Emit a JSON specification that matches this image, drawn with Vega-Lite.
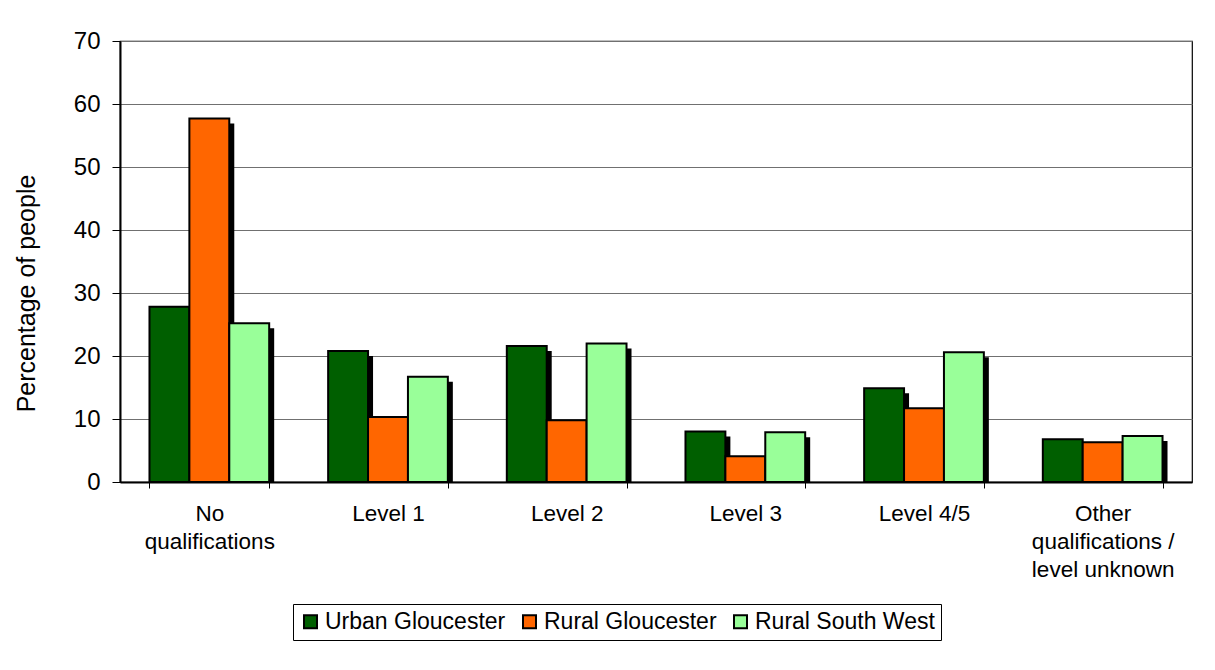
{
  "$schema": "https://vega.github.io/schema/vega-lite/v6.json",
  "autosize": {"type": "none"},
  "width": 1072,
  "height": 441,
  "padding": {"left": 120, "top": 41, "right": 23, "bottom": 188},
  "background": "white",
  "config": {
    "font": "Liberation Sans",
    "view": {"stroke": "#000000", "strokeWidth": 1.2}
  },
  "data": {
    "values": [
      {"qual": "No qualifications", "area": "Urban Gloucester", "value": 27.8},
      {"qual": "No qualifications", "area": "Rural Gloucester", "value": 57.7},
      {"qual": "No qualifications", "area": "Rural South West", "value": 25.2},
      {"qual": "Level 1", "area": "Urban Gloucester", "value": 20.8},
      {"qual": "Level 1", "area": "Rural Gloucester", "value": 10.3},
      {"qual": "Level 1", "area": "Rural South West", "value": 16.7},
      {"qual": "Level 2", "area": "Urban Gloucester", "value": 21.6},
      {"qual": "Level 2", "area": "Rural Gloucester", "value": 9.8},
      {"qual": "Level 2", "area": "Rural South West", "value": 22.0},
      {"qual": "Level 3", "area": "Urban Gloucester", "value": 8.0},
      {"qual": "Level 3", "area": "Rural Gloucester", "value": 4.1},
      {"qual": "Level 3", "area": "Rural South West", "value": 7.9},
      {"qual": "Level 4/5", "area": "Urban Gloucester", "value": 14.9},
      {"qual": "Level 4/5", "area": "Rural Gloucester", "value": 11.7},
      {"qual": "Level 4/5", "area": "Rural South West", "value": 20.6},
      {"qual": "Other qualifications / level unknown", "area": "Urban Gloucester", "value": 6.8},
      {"qual": "Other qualifications / level unknown", "area": "Rural Gloucester", "value": 6.3},
      {"qual": "Other qualifications / level unknown", "area": "Rural South West", "value": 7.3}
    ]
  },
  "encoding": {
    "x": {
      "field": "qual",
      "type": "nominal",
      "sort": null,
      "scale": {"paddingInner": 0.33, "paddingOuter": 0.165},
      "axis": {
        "title": null,
        "labelAngle": 0,
        "labelFontSize": 22.5,
        "labelColor": "#000000",
        "labelBaseline": "top",
        "labelPadding": 14,
        "labelLineHeight": 28,
        "labelExpr": "datum.value == 'No qualifications' ? ['No', 'qualifications'] : datum.value == 'Other qualifications / level unknown' ? ['Other', 'qualifications /', 'level unknown'] : datum.value",
        "tickBand": "extent",
        "tickSize": 6,
        "tickColor": "#000000",
        "tickWidth": 1,
        "domainColor": "#000000",
        "domainWidth": 2,
        "grid": false
      }
    },
    "y": {
      "field": "value",
      "type": "quantitative",
      "scale": {"domain": [0, 70], "nice": false},
      "axis": {
        "title": "Percentage of people",
        "titleFontSize": 25,
        "titleFontWeight": "normal",
        "titleColor": "#000000",
        "titlePadding": 34,
        "titleY": 252,
        "values": [0, 10, 20, 30, 40, 50, 60, 70],
        "labelFontSize": 24,
        "labelColor": "#000000",
        "labelPadding": 12,
        "tickSize": 8,
        "tickColor": "#000000",
        "domainColor": "#000000",
        "domainWidth": 2,
        "grid": true,
        "gridColor": "#707070",
        "gridWidth": 1
      }
    }
  },
  "resolve": {"scale": {"xOffset": "independent"}},
  "layer": [
    {
      "mark": {"type": "bar", "color": "#000000", "yOffset": 5},
      "encoding": {
        "y2": {"datum": 0},
        "xOffset": {
          "field": "area",
          "type": "nominal",
          "sort": ["Urban Gloucester", "Rural Gloucester", "Rural South West"],
          "scale": {"paddingInner": 0, "paddingOuter": 0, "range": [5, 124.7]}
        }
      }
    },
    {
      "mark": {"type": "bar", "stroke": "#000000", "strokeWidth": 2},
      "encoding": {
        "xOffset": {
          "field": "area",
          "type": "nominal",
          "sort": ["Urban Gloucester", "Rural Gloucester", "Rural South West"],
          "scale": {"paddingInner": 0, "paddingOuter": 0}
        },
        "color": {
          "field": "area",
          "type": "nominal",
          "sort": ["Urban Gloucester", "Rural Gloucester", "Rural South West"],
          "scale": {
            "domain": ["Urban Gloucester", "Rural Gloucester", "Rural South West"],
            "range": ["#005f00", "#ff6600", "#99ff99"]
          },
          "legend": {
            "title": null,
            "orient": "none",
            "legendX": 173,
            "legendY": 563,
            "direction": "horizontal",
            "columns": 3,
            "symbolType": "square",
            "symbolSize": 169,
            "symbolStrokeColor": "#000000",
            "symbolStrokeWidth": 2,
            "symbolOpacity": 1,
            "labelFontSize": 23,
            "labelLimit": 400,
            "labelColor": "#000000",
            "labelOffset": 3,
            "columnPadding": 12,
            "padding": 6,
            "strokeColor": "#000000",
            "fillColor": "#ffffff"
          }
        }
      }
    }
  ]
}
